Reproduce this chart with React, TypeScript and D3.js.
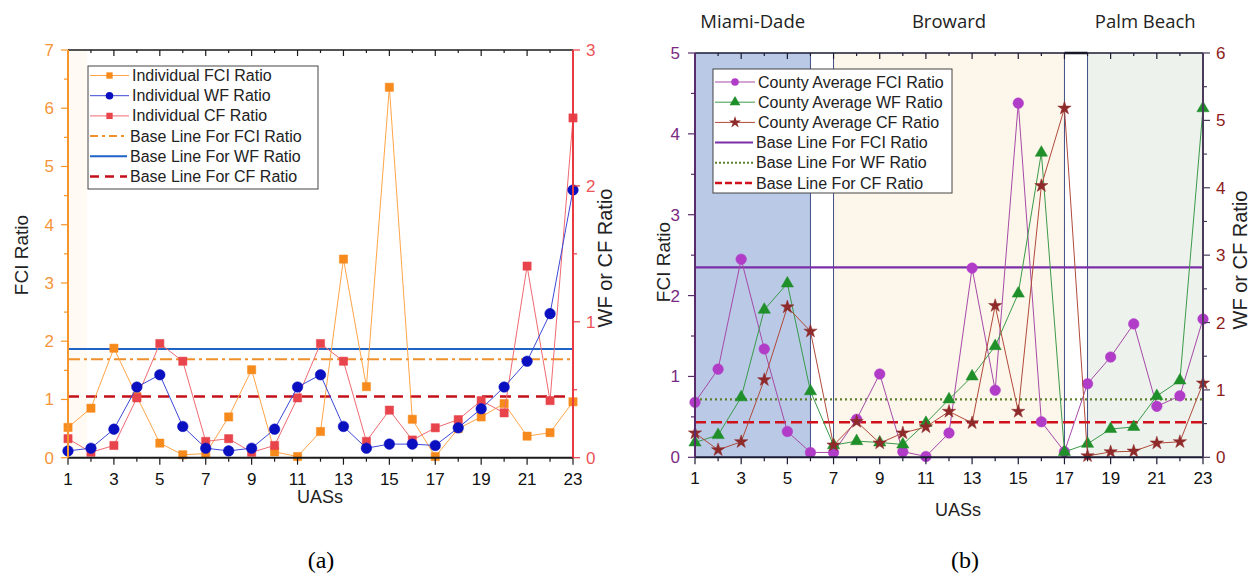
import React from 'react';
import * as d3 from 'd3';

// ---------- DATA ----------
const uas = [1,2,3,4,5,6,7,8,9,10,11,12,13,14,15,16,17,18,19,20,21,22,23];
const xTickLabels = [1,3,5,7,9,11,13,15,17,19,21,23];

// (a) individual ratios
const indFCI = [0.52,0.85,1.88,1.05,0.25,0.05,0.07,0.70,1.51,0.10,0.02,0.45,3.41,1.22,6.36,0.66,0.02,0.50,0.70,0.93,0.37,0.43,0.96];
const indWF  = [0.05,0.07,0.21,0.52,0.61,0.23,0.07,0.05,0.07,0.21,0.52,0.61,0.23,0.07,0.10,0.10,0.09,0.22,0.36,0.52,0.71,1.06,1.97];
const indCF  = [0.14,0.04,0.09,0.44,0.84,0.71,0.12,0.14,0.04,0.09,0.44,0.84,0.71,0.12,0.35,0.13,0.22,0.28,0.42,0.33,1.41,0.42,2.50];
const baseA = { fci: 1.69, wf: 0.80, cf: 0.45 };
const aLeftTicks = [0,1,2,3,4,5,6,7];
const aRightTicks = [0,1,2,3];

// (b) county averages
const cntFCI = [0.68,1.09,2.45,1.34,0.32,0.06,0.06,0.47,1.03,0.07,0.01,0.30,2.34,0.83,4.38,0.44,0.07,0.91,1.24,1.65,0.63,0.76,1.71];
const cntWF  = [0.22,0.33,0.89,2.19,2.58,0.98,0.18,0.24,0.22,0.19,0.51,0.86,1.20,1.65,2.43,4.52,0.08,0.20,0.42,0.45,0.91,1.14,5.18];
const cntCF  = [0.36,0.11,0.23,1.15,2.23,1.87,0.18,0.53,0.21,0.36,0.45,0.68,0.51,2.25,0.68,4.03,5.18,0.02,0.08,0.09,0.21,0.23,1.10];
const baseB = { fci: 2.35, wf: 0.86, cf: 0.52 };
const bLeftTicks = [0,1,2,3,4,5];
const bRightTicks = [0,1,2,3,4,5,6];
const counties = [
  { name: 'Miami-Dade', from: 1, to: 6, fill: '#b9c9e6' },
  { name: 'Broward', from: 7, to: 17, fill: '#fdf6ea' },
  { name: 'Palm Beach', from: 18, to: 23, fill: '#eef2ec' },
];

const SANS = '"Liberation Sans", Arial, sans-serif';

type Pt = [number, number];

function Series({ xs, ys, x, y, line, markColor, sym, size }: any) {
  const pts: Pt[] = xs.map((v: number, i: number) => [x(v), y(ys[i])]);
  const path = d3.line()(pts) || '';
  const gen = d3.symbol().type(sym).size(size);
  return (
    <g>
      <path d={path} fill="none" stroke={line} strokeWidth={1} />
      {pts.map((p, i) => (
        <path key={i} d={gen() || ''} transform={`translate(${p[0]},${p[1]})`} fill={markColor} stroke={markColor} strokeWidth={0.5} />
      ))}
    </g>
  );
}

function BottomAxis({ x, y0, y1, color }: any) {
  return (
    <g>
      <line x1={x.range()[0]} x2={x.range()[1]} y1={y0} y2={y0} stroke={color} strokeWidth={2} />
      <line x1={x.range()[0]} x2={x.range()[1]} y1={y1} y2={y1} stroke={color} strokeWidth={1.5} />
      {uas.map((u) => {
        const major = xTickLabels.includes(u);
        return (
          <g key={u}>
            <line x1={x(u)} x2={x(u)} y1={y0} y2={y0 + (major ? 7 : 4)} stroke={color} strokeWidth={1.2} />
            <line x1={x(u)} x2={x(u)} y1={y1} y2={y1 + (major ? 6 : 3)} stroke={color} strokeWidth={1.2} />
          </g>
        );
      })}
      {xTickLabels.map((u) => (
        <text key={u} x={x(u)} y={y0 + 27} textAnchor="middle" fontSize={17} fontFamily={SANS} fill="#111">{u}</text>
      ))}
    </g>
  );
}

function VAxis({ y, ticks, xPos, side, labelColor, lineColor, off }: any) {
  const dir = side === 'left' ? -1 : 1;
  const minors: number[] = [];
  for (let i = 0; i < ticks.length - 1; i++) minors.push((ticks[i] + ticks[i + 1]) / 2);
  return (
    <g>
      <line x1={xPos} x2={xPos} y1={y.range()[0]} y2={y.range()[1]} stroke={lineColor} strokeWidth={2} />
      {ticks.map((t: number) => (
        <g key={t}>
          <line x1={xPos} x2={xPos + dir * 7} y1={y(t)} y2={y(t)} stroke={lineColor} strokeWidth={1.2} />
          <text x={xPos + dir * off} y={y(t) + 6} textAnchor={side === 'left' ? 'end' : 'start'} fontSize={17} fontFamily={SANS} fill={labelColor}>{t}</text>
        </g>
      ))}
      {minors.map((t) => (
        <line key={t} x1={xPos} x2={xPos + dir * 4} y1={y(t)} y2={y(t)} stroke={lineColor} strokeWidth={1.2} />
      ))}
    </g>
  );
}

function Legend({ x0, y0, w, h, first, items }: any) {
  return (
    <g>
      <rect x={x0} y={y0} width={w} height={h} fill="#fff" stroke="#444" strokeWidth={1} />
      {items.map((it: any, i: number) => {
        const cy = y0 + first + i * 20.2;
        const gen = it.sym ? d3.symbol().type(it.sym).size(it.size) : null;
        return (
          <g key={i}>
            <line x1={x0 + 2} x2={x0 + it.lineLen} y1={cy} y2={cy} stroke={it.color} strokeWidth={it.sw || 1} strokeDasharray={it.dash || null} />
            {gen && <path d={gen() || ''} transform={`translate(${x0 + it.lineLen / 2 + 1},${cy})`} fill={it.mcolor} />}
            <text x={x0 + it.lineLen + 3} y={cy + 5.5} fontSize={16} fontFamily={SANS} fill="#222">{it.label}</text>
          </g>
        );
      })}
    </g>
  );
}

export default function App() {
  // ---------- chart (a) ----------
  const xa = d3.scaleLinear().domain([1, 23]).range([68, 573]);
  const yaL = d3.scaleLinear().domain([0, 7]).range([457.7, 50]);
  const yaR = d3.scaleLinear().domain([0, 3]).range([457.7, 50]);

  // ---------- chart (b) ----------
  const xb = d3.scaleLinear().domain([1, 23]).range([695, 1203]);
  const ybL = d3.scaleLinear().domain([0, 5]).range([457.3, 53]);
  const ybR = d3.scaleLinear().domain([0, 6]).range([457.3, 53]);

  const star = d3.symbolStar;

  return (
    <svg width={1257} height={581} style={{ position: 'absolute', left: 0, top: 0, background: '#fff' }}>
      {/* ===== (a) ===== */}
      <g>
        <rect x={69} y={51} width={18} height={406} fill="#fffaf4" />
        <line x1={xa(1)} x2={xa(23)} y1={yaL(baseA.fci)} y2={yaL(baseA.fci)} stroke="#f0902a" strokeWidth={2} strokeDasharray="12,4,3,4" />
        <line x1={xa(1)} x2={xa(23)} y1={yaR(baseA.wf)} y2={yaR(baseA.wf)} stroke="#1f63c6" strokeWidth={2.2} />
        <line x1={xa(1)} x2={xa(23)} y1={yaR(baseA.cf)} y2={yaR(baseA.cf)} stroke="#c4101a" strokeWidth={2.5} strokeDasharray="11,7" />
        <Series xs={uas} ys={indFCI} x={xa} y={yaL} line="#ffa548" markColor="#f78a1c" sym={d3.symbolSquare} size={68} />
        <Series xs={uas} ys={indCF} x={xa} y={yaR} line="#ef6a70" markColor="#e8444c" sym={d3.symbolSquare} size={68} />
        <Series xs={uas} ys={indWF} x={xa} y={yaR} line="#3c48d8" markColor="#0a10c0" sym={d3.symbolCircle} size={88} />
        <BottomAxis x={xa} y0={457.7} y1={50} color="#1a1a1a" />
        <VAxis y={yaL} ticks={aLeftTicks} xPos={68} side="left" labelColor="#f5953a" lineColor="#f5952a" off={14} />
        <VAxis y={yaR} ticks={aRightTicks} xPos={573} side="right" labelColor="#ec5458" lineColor="#e83a40" off={13} />
        <Legend x0={88} y0={66} w={230} h={123} first={9.5} items={[
          { label: 'Individual FCI Ratio', color: '#ffa548', sym: d3.symbolSquare, size: 40, mcolor: '#f78a1c', lineLen: 41 },
          { label: 'Individual WF Ratio', color: '#3c48d8', sym: d3.symbolCircle, size: 45, mcolor: '#0a10c0', lineLen: 41 },
          { label: 'Individual CF Ratio', color: '#ef6a70', sym: d3.symbolSquare, size: 40, mcolor: '#e8444c', lineLen: 41 },
          { label: 'Base Line For FCI Ratio', color: '#f0902a', dash: '8,4,3,4', sw: 2, lineLen: 39 },
          { label: 'Base Line For WF Ratio', color: '#1f63c6', sw: 2, lineLen: 39 },
          { label: 'Base Line For CF Ratio', color: '#c4101a', dash: '9,6', sw: 2.5, lineLen: 39 },
        ]} />
        <text transform="translate(28,255) rotate(-90)" textAnchor="middle" fontSize={19} fontFamily={SANS} fill="#222">FCI Ratio</text>
        <text transform="translate(612,258) rotate(-90)" textAnchor="middle" fontSize={20} fontFamily={SANS} fill="#222">WF or CF Ratio</text>
        <text x={320} y={503} textAnchor="middle" fontSize={18} fontFamily={SANS} fill="#222">UASs</text>
        <text x={321} y={568} textAnchor="middle" fontSize={24} fontFamily='"Liberation Serif", "Times New Roman", serif' fill="#000">(a)</text>
      </g>

      {/* ===== (b) ===== */}
      <g>
        {counties.map((c) => (
          <g key={c.name}>
            <rect x={xb(c.from)} y={53} width={xb(c.to) - xb(c.from)} height={457.3 - 53} fill={c.fill} />
            <text x={(xb(c.from) + xb(c.to)) / 2} y={28} textAnchor="middle" fontSize={18.5} fontFamily='"Open Sans", "Noto Sans", sans-serif' fill="#222">{c.name}</text>
          </g>
        ))}
        {[6, 7, 17, 18].map((v) => (
          <line key={v} x1={xb(v)} x2={xb(v)} y1={53} y2={457.3} stroke="#3f4f86" strokeWidth={1} />
        ))}
        <line x1={xb(17)} x2={xb(18)} y1={53} y2={53} stroke="#111" strokeWidth={2.5} />
        <line x1={xb(1)} x2={xb(23)} y1={ybL(baseB.fci)} y2={ybL(baseB.fci)} stroke="#7a2fa8" strokeWidth={2.2} />
        <line x1={xb(1)} x2={xb(23)} y1={ybR(baseB.wf)} y2={ybR(baseB.wf)} stroke="#5f7f2a" strokeWidth={2.2} strokeDasharray="2,3" />
        <line x1={xb(1)} x2={xb(23)} y1={ybR(baseB.cf)} y2={ybR(baseB.cf)} stroke="#d0101a" strokeWidth={2.5} strokeDasharray="11,5" />
        <Series xs={uas} ys={cntFCI} x={xb} y={ybL} line="#a64aa8" markColor="#b03cc8" sym={d3.symbolCircle} size={88} />
        <Series xs={uas} ys={cntWF} x={xb} y={ybR} line="#3a9a4a" markColor="#1f8f2a" sym={d3.symbolTriangle} size={65} />
        <Series xs={uas} ys={cntCF} x={xb} y={ybR} line="#b04a3a" markColor="#8e2a2a" sym={star} size={55} />
        <BottomAxis x={xb} y0={457.3} y1={53} color="#1a1a33" />
        <VAxis y={ybL} ticks={bLeftTicks} xPos={695} side="left" labelColor="#7a2a82" lineColor="#5a2a6a" off={15} />
        <VAxis y={ybR} ticks={bRightTicks} xPos={1203} side="right" labelColor="#8e1c1c" lineColor="#4a3a5a" off={13} />
        <Legend x0={713} y0={69} w={239} h={124} first={13} items={[
          { label: 'County Average FCI Ratio', color: '#a64aa8', sym: d3.symbolCircle, size: 45, mcolor: '#b03cc8', lineLen: 42 },
          { label: 'County Average WF Ratio', color: '#3a9a4a', sym: d3.symbolTriangle, size: 50, mcolor: '#1f8f2a', lineLen: 42 },
          { label: 'County Average CF Ratio', color: '#b04a3a', sym: star, size: 45, mcolor: '#8e2a2a', lineLen: 42 },
          { label: 'Base Line For FCI Ratio', color: '#7a2fa8', sw: 2, lineLen: 40 },
          { label: 'Base Line For WF Ratio', color: '#5f7f2a', dash: '2,2', sw: 2, lineLen: 40 },
          { label: 'Base Line For CF Ratio', color: '#d0101a', dash: '7,3', sw: 2.5, lineLen: 40 },
        ]} />
        <text transform="translate(670,262) rotate(-90)" textAnchor="middle" fontSize={19} fontFamily={SANS} fill="#222">FCI Ratio</text>
        <text transform="translate(1247,260) rotate(-90)" textAnchor="middle" fontSize={20} fontFamily={SANS} fill="#222">WF or CF Ratio</text>
        <text x={958} y={516} textAnchor="middle" fontSize={18} fontFamily={SANS} fill="#222">UASs</text>
        <text x={965} y={568} textAnchor="middle" fontSize={24} fontFamily='"Liberation Serif", "Times New Roman", serif' fill="#000">(b)</text>
      </g>
    </svg>
  );
}
